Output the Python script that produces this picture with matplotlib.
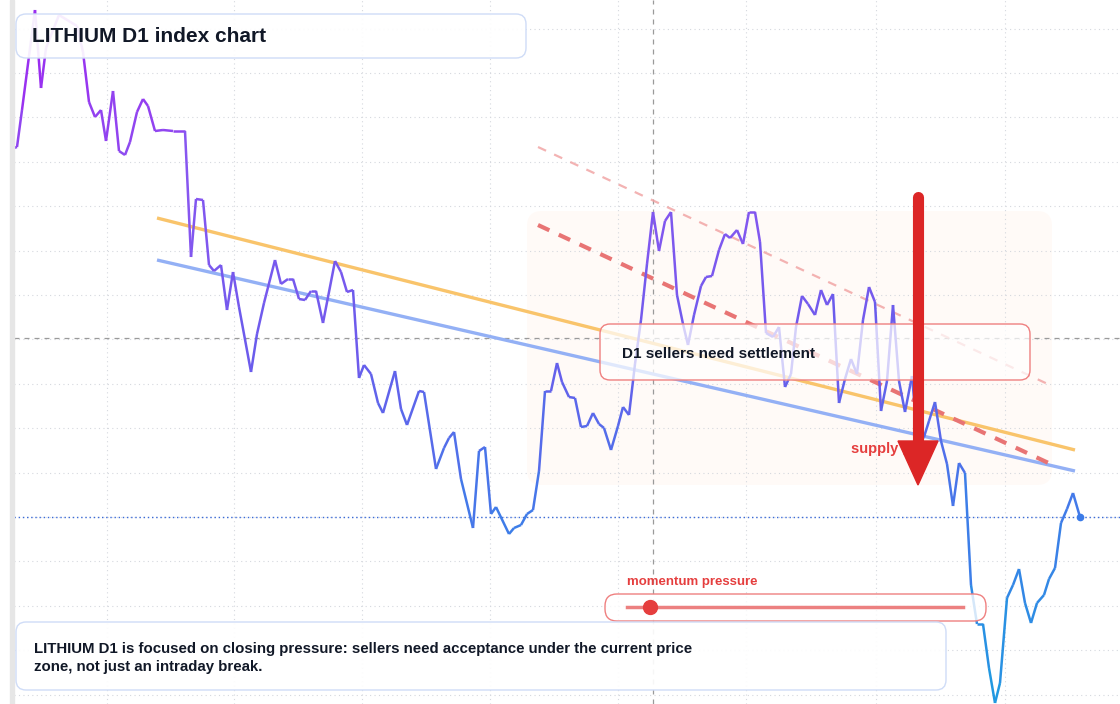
import numpy as np
import matplotlib
matplotlib.use("Agg")
import matplotlib.pyplot as plt
from matplotlib.collections import LineCollection
from matplotlib.patches import FancyBboxPatch, FancyArrow
from matplotlib.colors import LinearSegmentedColormap

plt.rcParams['font.family'] = ['Liberation Sans', 'DejaVu Sans']

# day index (time units) and index value
days = [0, 3, 8, 21, 27, 32, 45, 63, 69, 75, 81, 87, 92, 99, 105, 111, 116, 123, 129, 134, 141, 149, 159,
        171, 177, 182, 189, 195, 200, 207, 213, 219, 225, 237, 243, 250, 261, 267, 274, 279, 285, 291, 297,
        302, 309, 321, 327, 333, 339, 345, 350, 357, 364, 369, 381, 387, 393, 405, 410, 422, 430, 435, 440,
        447, 459, 465, 471, 477, 482, 495, 500, 507, 513, 519, 525, 531, 537, 543, 548, 555, 561, 567, 573,
        579, 585, 590, 597, 604, 609, 615, 621, 627, 633, 639, 645, 651, 657, 663, 669, 674, 680, 687, 692,
        698, 705, 711, 716, 723, 729, 735, 741, 746, 752, 759, 765, 771, 777, 782, 788, 794, 801, 807, 813,
        819, 825, 831, 837, 843, 849, 855, 861, 867, 873, 879, 885, 891, 898, 904, 910, 915, 921, 927, 933,
        939, 945, 951, 957, 963, 969, 975, 981, 986, 993, 999, 1005, 1011, 1017, 1023, 1030, 1035, 1041,
        1047, 1053, 1059, 1066]
values = [55.6, 55.7, 59.4, 69.4, 61.6, 65.6, 68.9, 67.8, 65.2, 60.2, 58.7, 59.4, 56.3, 61.3, 55.3, 54.9,
          56.2, 59.2, 60.5, 59.8, 57.3, 57.4, 57.3, 57.3, 44.7, 50.5, 50.4, 43.9, 43.3, 43.9, 39.4, 43.2,
          39.7, 33.2, 37.0, 40.1, 44.4, 42.0, 42.5, 42.5, 40.5, 40.4, 41.3, 41.3, 38.1, 44.3, 43.2, 41.2,
          41.4, 32.6, 33.9, 33.0, 30.1, 29.1, 33.3, 29.5, 27.9, 31.3, 31.2, 23.5, 25.6, 26.6, 27.2, 22.5,
          17.6, 25.3, 25.7, 19.0, 19.7, 17.0, 17.6, 17.9, 19.0, 19.4, 23.3, 31.3, 31.3, 34.1, 32.2, 30.7,
          30.6, 27.7, 27.8, 29.1, 28.0, 27.6, 25.4, 27.8, 29.7, 28.9, 34.0, 38.4, 44.0, 49.2, 45.3, 48.3,
          49.2, 40.9, 38.0, 35.9, 38.9, 41.8, 42.7, 42.8, 45.4, 47.0, 46.6, 47.4, 46.0, 49.2, 49.2, 46.2,
          37.1, 36.7, 37.7, 31.7, 33.0, 37.7, 40.8, 40.0, 38.9, 41.4, 39.9, 41.0, 30.1, 32.5, 34.5, 33.0,
          38.4, 41.7, 40.2, 29.3, 32.3, 39.9, 32.3, 29.2, 32.8, 26.0, 26.7, 28.3, 30.2, 26.3, 24.0, 19.8,
          24.1, 23.1, 11.9, 8.0, 8.0, 3.6, 0.1, 2.1, 10.6, 11.9, 13.5, 10.1, 8.1, 10.1, 10.9, 12.5, 13.6,
          18.1, 19.5, 21.1, 18.7]

# overlay lines (day, value endpoints)
trend_upper_x = [143, 1061]; trend_upper_y = [48.6, 25.4]
trend_lower_x = [143, 1061]; trend_lower_y = [44.4, 23.3]
supply_x = [524, 1041]; supply_y = [47.9, 23.8]
supply2_x = [524, 1038]; supply2_y = [55.7, 31.8]
last_value = 18.7
cross_x = 639
cross_y = 36.6

W, H = 1120, 704
fig = plt.figure(figsize=(W / 100, H / 100), dpi=100)
fig.patch.set_facecolor('white')
ax = fig.add_axes([14 / W, 0, 1 - 14 / W, 1])
ax.set_xlim(0, 1106)
ax.set_ylim(0, 70.4)
ax.set_facecolor('white')
for s in ax.spines.values():
    s.set_visible(False)
ax.tick_params(length=0, labelbottom=False, labelleft=False)
ax.set_xticks([93, 220, 348, 476, 604, 732, 862, 991])
ax.set_yticks(np.arange(18.7 - 4.44 * 4, 71, 4.44))
ax.grid(True, color='#d5d8de', linestyle=(0, (1, 3)), linewidth=0.8)

fig.patches.append(plt.Rectangle((10 / W, 0), 4 / W, 1, transform=fig.transFigure,
                                 color='#e6e6e6', zorder=0))

ax.add_patch(FancyBboxPatch((513, 21.9), 525, 27.4, boxstyle="round,pad=0,rounding_size=15",
                            mutation_aspect=0.1, facecolor='#fff6f0', alpha=0.5,
                            edgecolor='none', zorder=1))

ax.axvline(cross_x, color='#9a9a9a', linestyle=(0, (4, 4)), linewidth=0.9, zorder=2)
ax.axhline(cross_y, color='#9a9a9a', linestyle=(0, (4, 4)), linewidth=0.9, zorder=2)
ax.axhline(last_value, color='#3b6bd8', linestyle=(0, (1, 2)), linewidth=1.0, zorder=2)

ax.plot(trend_upper_x, trend_upper_y, color='#f9c46b', lw=2.4, zorder=3, solid_capstyle='butt')
ax.plot(trend_lower_x, trend_lower_y, color='#93b0f5', lw=2.4, zorder=3, solid_capstyle='butt')
ax.plot(supply_x, supply_y, color='#e87474', lw=3, linestyle=(0, (3, 2.5)), zorder=3)
ax.plot(supply2_x, supply2_y, color='#f0a0a0', lw=1.6, linestyle=(0, (4, 4)), alpha=0.8, zorder=3)

x = np.array(days, float); y = np.array(values, float)
pts = np.column_stack([x, y]).reshape(-1, 1, 2)
segs = np.concatenate([pts[:-1], pts[1:]], axis=1)
cmap = LinearSegmentedColormap.from_list('g', ['#1e9be0', '#3d7ee8', '#6a5cec', '#8a55f0', '#a020f0'])
lc = LineCollection(segs, cmap=cmap, norm=plt.Normalize(0, 70), linewidth=1.8, zorder=4)
lc.set_array((y[:-1] + y[1:]) / 2)
ax.add_collection(lc)
ax.plot([days[-1]], [values[-1]], 'o', color='#3b7be8', ms=4.5, zorder=5)

def fx(px): return px / W
def fy(py): return 1 - py / H

def box(x0, y0, x1, y1, ec, fc='white', r=10, lw=1.0):
    p = FancyBboxPatch((fx(x0), fy(y1)), fx(x1 - x0), (y1 - y0) / H,
                       boxstyle=f"round,pad=0,rounding_size={r / W}",
                       mutation_aspect=W / H, transform=fig.transFigure,
                       facecolor=fc, edgecolor=ec, linewidth=lw, zorder=10)
    fig.patches.append(p)

box(16, 14, 526, 58, '#cfdcf7', fc=(1, 1, 1, 0.92))
fig.text(fx(32), fy(37), 'LITHIUM D1 index chart', fontsize=15, fontweight='bold',
         color='#111827', va='center', zorder=11)

box(600, 324, 1030, 380, '#ef8080', fc=(1, 1, 1, 0.72))
fig.text(fx(622), fy(354), 'D1 sellers need settlement', fontsize=11, fontweight='bold',
         color='#111827', va='center', zorder=11)

fig.text(fx(851), fy(449), 'supply gate', fontsize=10.5, fontweight='bold',
         color='#e53e3e', va='center', zorder=11)
fig.lines.append(plt.Line2D([fx(918), fx(918)], [fy(197), fy(442)], transform=fig.transFigure,
                            color='#dc2626', lw=8, solid_capstyle='round', zorder=12))
fig.patches.append(FancyArrow(fx(918), fy(441), 0, -44 / H, width=8 / W,
                              head_width=40 / W, head_length=44 / H, length_includes_head=True,
                              transform=fig.transFigure, color='#dc2626', zorder=12))

fig.text(fx(627), fy(582), 'momentum pressure', fontsize=9.5, fontweight='bold',
         color='#e53e3e', va='center', zorder=11)
box(605, 594, 986, 621, '#ef8080', fc=(1, 1, 1, 0.8), r=12)
fig.lines.append(plt.Line2D([fx(627), fx(963)], [fy(607), fy(607)], transform=fig.transFigure,
                            color='#ec8080', lw=2.5, zorder=12))
fig.lines.append(plt.Line2D([fx(650)], [fy(607)], marker='o', ms=10, transform=fig.transFigure,
                            color='#e53e3e', zorder=13))

box(16, 622, 946, 690, '#cfdcf7', fc=(1, 1, 1, 0.92))
fig.text(fx(34), fy(658), 'LITHIUM D1 is focused on closing pressure: sellers need acceptance under the current price\nzone, not just an intraday break.',
         fontsize=10.85, fontweight='bold', color='#111827', va='center', linespacing=1.35, zorder=11)

fig.savefig('out.png', dpi=100)
